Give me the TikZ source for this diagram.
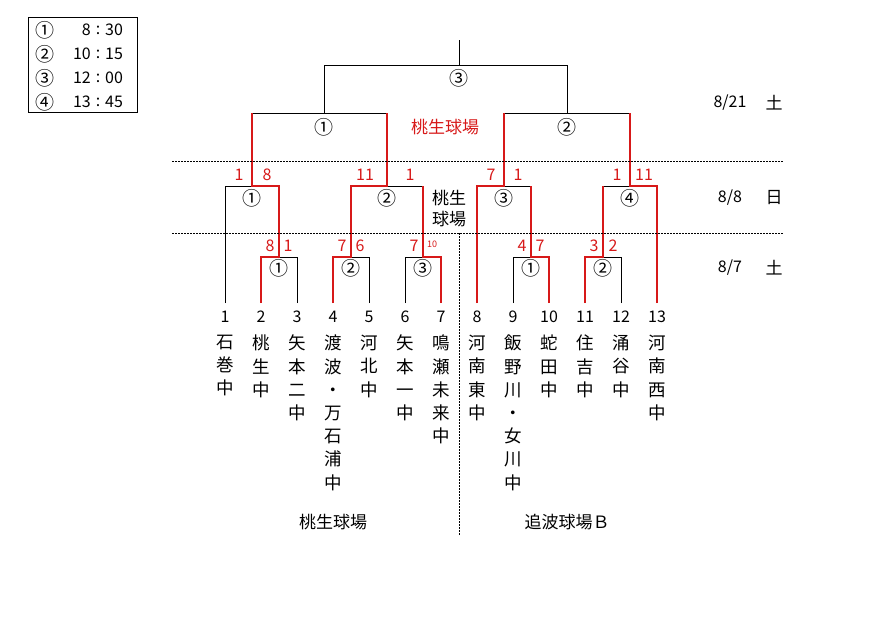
\documentclass[tikz,border=0pt]{standalone}
\usepackage{fontspec}
\setmainfont{Noto Sans CJK JP}
\usetikzlibrary{calc}
\definecolor{winred}{RGB}{215,25,25}

\tikzset{
  bk/.style={line width=1pt},
  win/.style={draw=winred, line width=2.4pt, line join=miter},
  sep/.style={line width=1pt, dash pattern=on 1.5pt off 1.5pt},
  mno/.style={font=\fontsize{19}{19}\selectfont, inner sep=0pt},
  pts/.style={text=winred, font=\fontsize{16}{16}\selectfont, inner sep=0pt},
  num/.style={font=\fontsize{16}{16}\selectfont, inner sep=0pt},
  school/.style={font=\fontsize{17.5}{23.2}\selectfont, align=center, anchor=north, inner sep=0pt},
  txt/.style={font=\fontsize{17}{21}\selectfont, inner sep=0pt, align=center}
}

\begin{document}
\begin{tikzpicture}[x=1pt,y=-1pt]
  \useasboundingbox (0,0) rectangle (869,621);

  % Legend (start times)
  \draw[bk] (28,17) rectangle (137,112);
  \foreach \k/\mk/\hh/\mm in {0/①/8/30,1/②/10/15,2/③/12/00,3/④/13/45}{
    \node[mno] (lg\k) at (45,30+24*\k) {\mk};
    \node[num,anchor=east] (lh\k) at (91,30+24*\k) {\hh};
    \node[num] (lc\k) at (98,30+24*\k) {:};
    \node[num,anchor=west] (lm\k) at (105,30+24*\k) {\mm};
  }

  % Teams
  \foreach \i/\sname in {1/{石\\巻\\中}, 2/{桃\\生\\中}, 3/{矢\\本\\二\\中},
      4/{渡\\波\\・\\万\\石\\浦\\中}, 5/{河\\北\\中}, 6/{矢\\本\\一\\中},
      7/{鳴\\瀬\\未\\来\\中}, 8/{河\\南\\東\\中}, 9/{飯\\野\\川\\・\\女\\川\\中},
      10/{蛇\\田\\中}, 11/{住\\吉\\中}, 12/{涌\\谷\\中}, 13/{河\\南\\西\\中}}{
    \coordinate (t\i) at (189+36*\i,303);
    \node[num] (n\i) at (189+36*\i,317) {\i};
    \node[school] (s\i) at (189+36*\i,335) {\sname};
  }

  % Match points
  \coordinate (m1a) at (279,257);
  \coordinate (m1b) at (351,257);
  \coordinate (m1c) at (423,257);
  \coordinate (m1d) at (531,257);
  \coordinate (m1e) at (603,257);
  \coordinate (m2a) at (252,186);
  \coordinate (m2b) at (387,186);
  \coordinate (m2c) at (504,186);
  \coordinate (m2d) at (630,186);
  \coordinate (m3a) at (324,113);
  \coordinate (m3b) at (567,113);
  \coordinate (m4) at (459,65);
  \coordinate (top) at (459,40);

  % Black lines
  \draw[bk] (t3) |- (m1a);
  \draw[bk] (t5) |- (m1b);
  \draw[bk] (t6) |- (m1c);
  \draw[bk] (t9) |- (m1d);
  \draw[bk] (t12) |- (m1e);
  \draw[bk] (t1) |- (m2a);
  \draw[bk] (m1c |- m2b) -- (m2b);
  \draw[bk] (m1d |- m2c) -- (m2c);
  \draw[bk] (m1e |- m2d) -- (m2d);
  \draw[bk] (m2a |- m3a) -- (m2b |- m3a);
  \draw[bk] (m2c |- m3b) -- (m2d |- m3b);
  \draw[bk] (m3a) -- (m3a |- m4) -- (m3b |- m4) -- (m3b);
  \draw[bk] (m4) -- (top);

  % Winners
  \draw[win] (t2) |- (m1a) |- (m2a) -- (m2a |- m3a);
  \draw[win] (t4) |- (m1b) |- (m2b) -- (m2b |- m3a);
  \draw[win] (t7) |- (m1c) -- (m1c |- m2b);
  \draw[win] (t8) |- (m2c) -- (m2c |- m3b);
  \draw[win] (t10) |- (m1d) -- (m1d |- m2c);
  \draw[win] (t11) |- (m1e) -- (m1e |- m2d);
  \draw[win] (t13) |- (m2d) -- (m2d |- m3b);

  % Match numbers
  \node[mno] (c4) at (459,78) {③};
  \node[mno] (c3a) at (324,127) {①};
  \node[mno] (c3b) at (567,127) {②};
  \node[mno] (c2a) at (252,198) {①};
  \node[mno] (c2b) at (387,198) {②};
  \node[mno] (c2c) at (504,198) {③};
  \node[mno] (c2d) at (630,198) {④};
  \node[mno] (c1a) at (279,268) {①};
  \node[mno] (c1b) at (351,268) {②};
  \node[mno] (c1c) at (423,268) {③};
  \node[mno] (c1d) at (531,268) {①};
  \node[mno] (c1e) at (603,268) {②};

  % Scores
  \node[pts] (p2a1) at (239,175) {1};
  \node[pts] (p2a2) at (267,175) {8};
  \node[pts] (p2b1) at (365,175) {11};
  \node[pts] (p2b2) at (410,175) {1};
  \node[pts] (p2c1) at (491,175) {7};
  \node[pts] (p2c2) at (518,175) {1};
  \node[pts] (p2d1) at (617,175) {1};
  \node[pts] (p2d2) at (644,175) {11};
  \node[pts] (p1a1) at (270,246) {8};
  \node[pts] (p1a2) at (288,246) {1};
  \node[pts] (p1b1) at (342,246) {7};
  \node[pts] (p1b2) at (360,246) {6};
  \node[pts] (p1c1) at (414,246) {7};
  \node[pts,font=\fontsize{9}{9}\selectfont] (p1c2) at (432,244) {10};
  \node[pts] (p1d1) at (522,246) {4};
  \node[pts] (p1d2) at (540,246) {7};
  \node[pts] (p1e1) at (594,246) {3};
  \node[pts] (p1e2) at (613,246) {2};

  % Day separators
  \draw[sep] (172,161) -- (783,161);
  \draw[sep] (172,233) -- (783,233);
  \draw[sep] (459,233) -- (459,536);

  % Dates
  \node[num] (d3) at (730,103) {8/21};
  \node[txt] (w3) at (774,103) {土};
  \node[num] (d2) at (730,198) {8/8};
  \node[txt] (w2) at (774,198) {日};
  \node[num] (d1) at (730,268) {8/7};
  \node[txt] (w1) at (774,268) {土};

  % Grounds
  \node[txt,text=winred] (g3) at (445,127) {桃生球場};
  \node[txt] (g2) at (449,209) {桃生\\球場};
  \node[txt] (g1a) at (333,522) {桃生球場};
  \node[txt] (g1b) at (567,522) {追波球場Ｂ};
\end{tikzpicture}
\end{document}
